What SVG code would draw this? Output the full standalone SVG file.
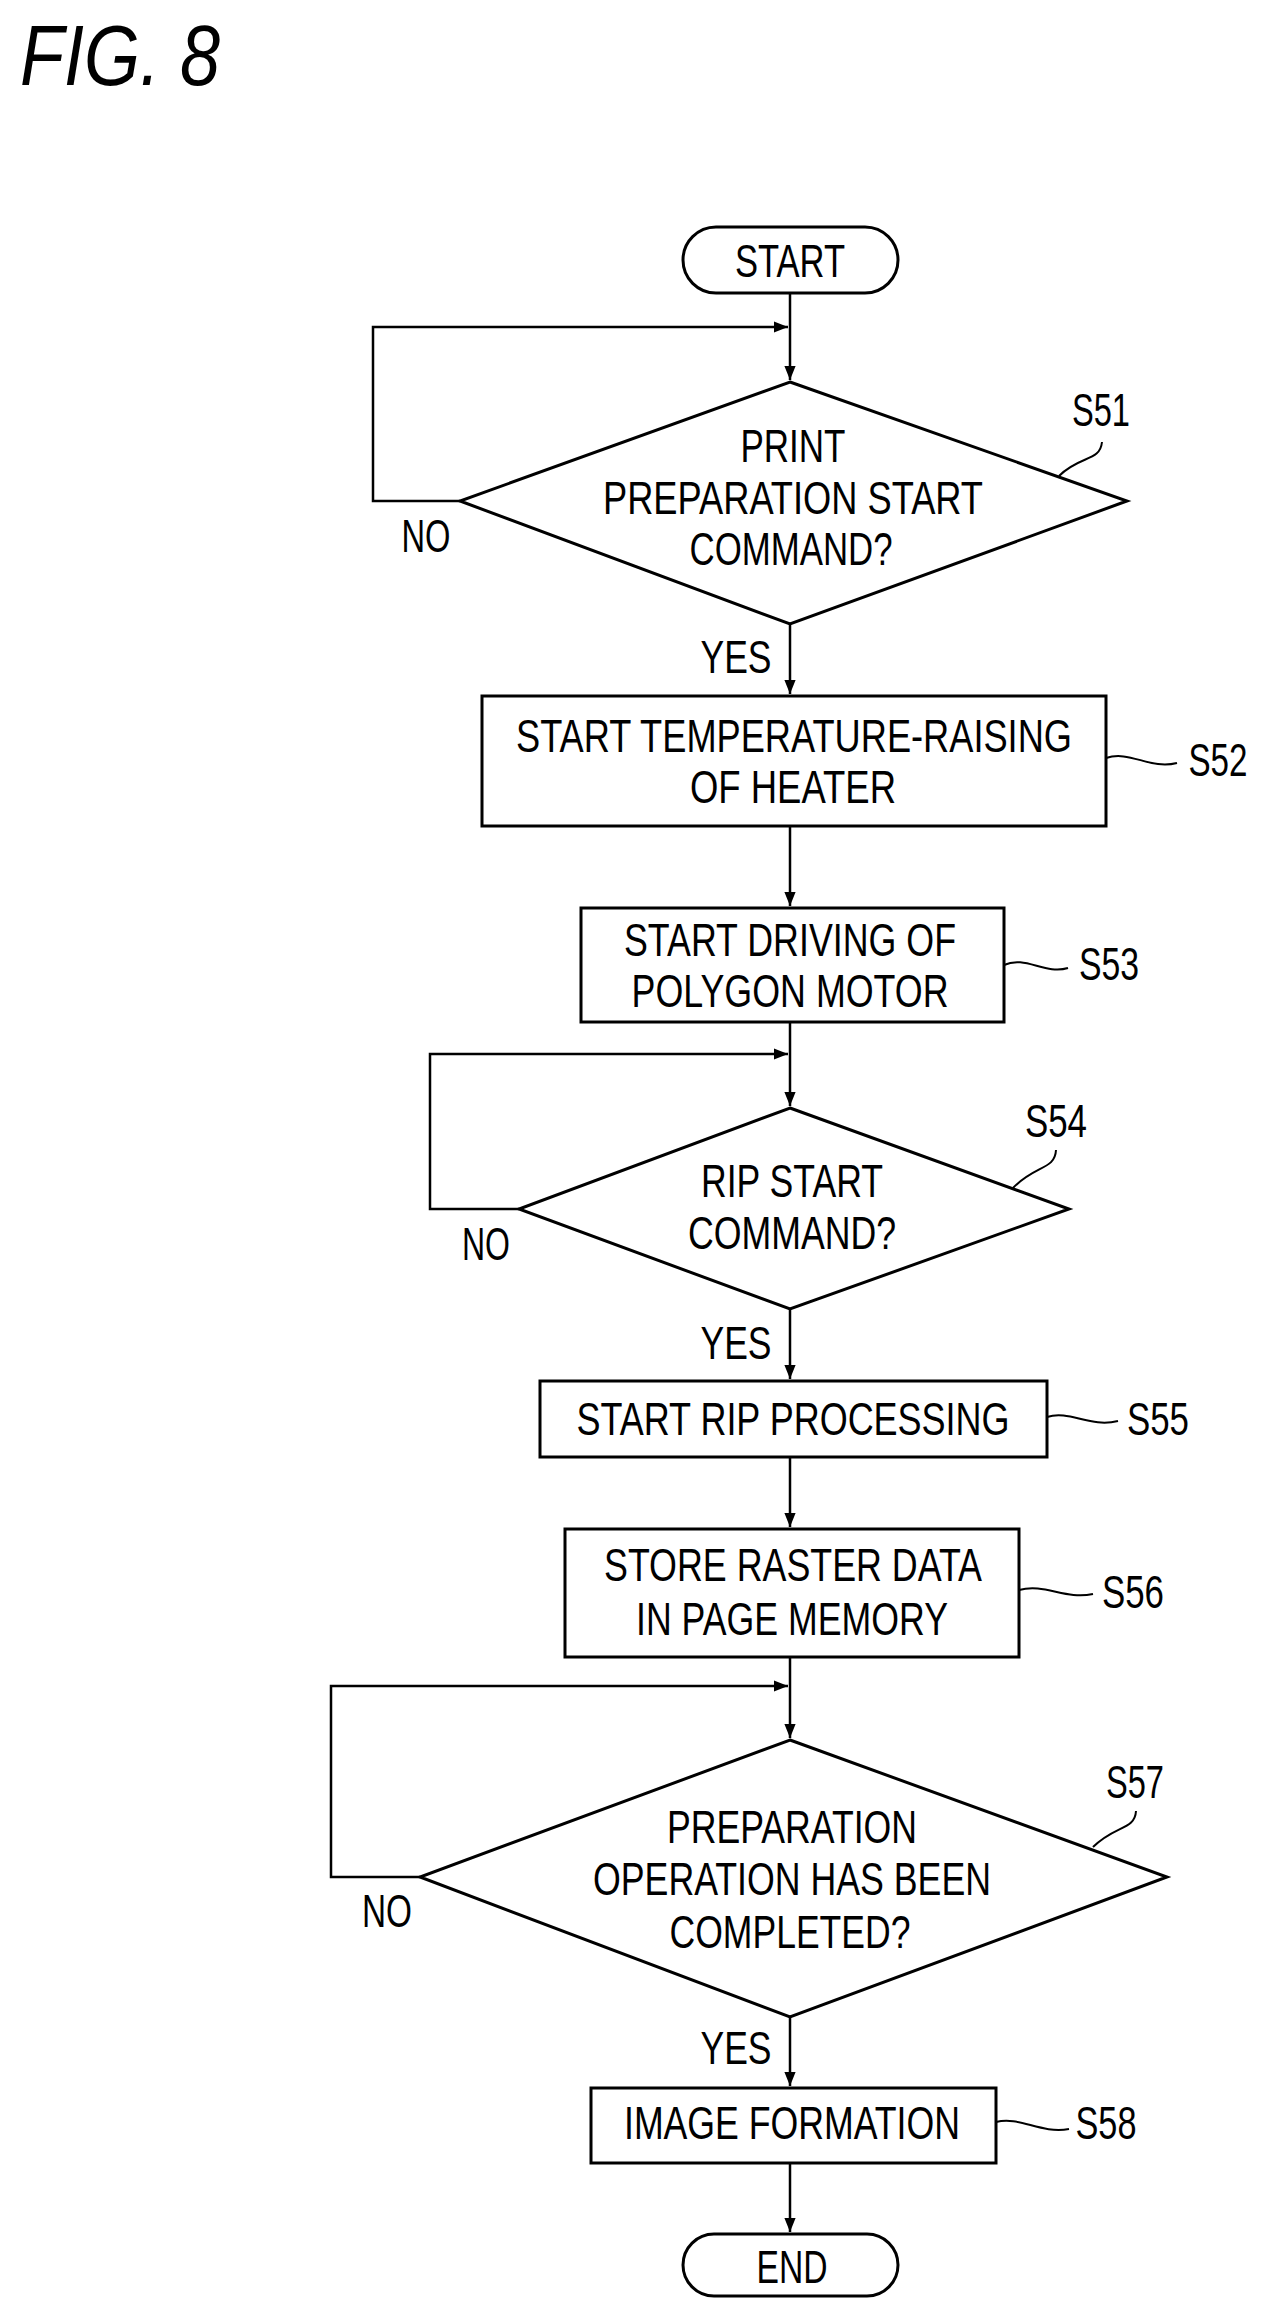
<svg xmlns="http://www.w3.org/2000/svg" width="1263" height="2319" viewBox="0 0 1263 2319">
<style>
text{font-family:"Liberation Sans",Arial,sans-serif;font-size:46px;fill:#000;text-anchor:middle}
.s{fill:#fff;stroke:#000;stroke-width:3}
.c{fill:none;stroke:#000;stroke-width:2.5}
.l{fill:none;stroke:#000;stroke-width:2}
.t{font-size:86px;font-style:italic;text-anchor:start}
</style>
<defs><marker id="a" viewBox="0 0 10 10" refX="10" refY="5" markerWidth="14" markerHeight="14" markerUnits="userSpaceOnUse" orient="auto"><path d="M0,1 L10,5 L0,9 Z" fill="#000"/></marker></defs>
<text class="t" x="20" y="85" textLength="200" lengthAdjust="spacingAndGlyphs">FIG. 8</text>
<g id="connectors">
<path class="c" d="M790,293 V380" marker-end="url(#a)"/>
<path class="c" d="M460,501 H373 V327 H788" marker-end="url(#a)"/>
<path class="c" d="M790,624 V694" marker-end="url(#a)"/>
<path class="c" d="M790,826 V906" marker-end="url(#a)"/>
<path class="c" d="M790,1022 V1106" marker-end="url(#a)"/>
<path class="c" d="M519,1209 H430 V1054 H788" marker-end="url(#a)"/>
<path class="c" d="M790,1309 V1379" marker-end="url(#a)"/>
<path class="c" d="M790,1457 V1527" marker-end="url(#a)"/>
<path class="c" d="M790,1657 V1738" marker-end="url(#a)"/>
<path class="c" d="M420,1877 H331 V1686 H788" marker-end="url(#a)"/>
<path class="c" d="M790,2017 V2086" marker-end="url(#a)"/>
<path class="c" d="M790,2163 V2232" marker-end="url(#a)"/>
</g>
<g id="start"><rect class="s" x="683" y="227" width="215" height="66" rx="33"/><text x="790" y="277" textLength="110" lengthAdjust="spacingAndGlyphs">START</text></g>
<g id="S51"><polygon class="s" points="790,382 1127,501 790,624 460,501"/>
<text x="793" y="462" textLength="105" lengthAdjust="spacingAndGlyphs">PRINT</text>
<text x="793" y="514" textLength="380" lengthAdjust="spacingAndGlyphs">PREPARATION START</text>
<text x="791" y="565" textLength="203" lengthAdjust="spacingAndGlyphs">COMMAND?</text>
<text x="1101" y="426" textLength="58" lengthAdjust="spacingAndGlyphs">S51</text>
<path class="l" d="M1102,442 C1100,462 1080,455 1059,476"/>
<text x="426" y="552" textLength="49" lengthAdjust="spacingAndGlyphs">NO</text>
<text x="736" y="673" textLength="71" lengthAdjust="spacingAndGlyphs">YES</text></g>
<g id="S52"><rect class="s" x="482" y="696" width="624" height="130"/>
<text x="794" y="752" textLength="556" lengthAdjust="spacingAndGlyphs">START TEMPERATURE-RAISING</text>
<text x="793" y="803" textLength="206" lengthAdjust="spacingAndGlyphs">OF HEATER</text>
<path class="l" d="M1106,758 C1130,750 1150,770 1177,763"/>
<text x="1218" y="776" textLength="59" lengthAdjust="spacingAndGlyphs">S52</text></g>
<g id="S53"><rect class="s" x="581" y="908" width="423" height="114"/>
<text x="790" y="956" textLength="332" lengthAdjust="spacingAndGlyphs">START DRIVING OF</text>
<text x="790" y="1007" textLength="317" lengthAdjust="spacingAndGlyphs">POLYGON MOTOR</text>
<path class="l" d="M1004,965 C1025,955 1045,975 1068,968"/>
<text x="1109" y="980" textLength="60" lengthAdjust="spacingAndGlyphs">S53</text></g>
<g id="S54"><polygon class="s" points="790,1108 1069,1209 790,1309 519,1209"/>
<text x="792" y="1197" textLength="182" lengthAdjust="spacingAndGlyphs">RIP START</text>
<text x="792" y="1249" textLength="208" lengthAdjust="spacingAndGlyphs">COMMAND?</text>
<text x="1056" y="1137" textLength="62" lengthAdjust="spacingAndGlyphs">S54</text>
<path class="l" d="M1056,1150 C1055,1170 1035,1165 1013,1188"/>
<text x="486" y="1260" textLength="48" lengthAdjust="spacingAndGlyphs">NO</text>
<text x="736" y="1359" textLength="71" lengthAdjust="spacingAndGlyphs">YES</text></g>
<g id="S55"><rect class="s" x="540" y="1381" width="507" height="76"/>
<text x="793" y="1435" textLength="433" lengthAdjust="spacingAndGlyphs">START RIP PROCESSING</text>
<path class="l" d="M1047,1417 C1070,1410 1090,1428 1118,1421"/>
<text x="1158" y="1435" textLength="62" lengthAdjust="spacingAndGlyphs">S55</text></g>
<g id="S56"><rect class="s" x="565" y="1529" width="454" height="128"/>
<text x="793" y="1581" textLength="378" lengthAdjust="spacingAndGlyphs">STORE RASTER DATA</text>
<text x="792" y="1635" textLength="312" lengthAdjust="spacingAndGlyphs">IN PAGE MEMORY</text>
<path class="l" d="M1019,1590 C1045,1583 1065,1600 1093,1594"/>
<text x="1133" y="1608" textLength="62" lengthAdjust="spacingAndGlyphs">S56</text></g>
<g id="S57"><polygon class="s" points="790,1740 1167,1877 790,2017 420,1877"/>
<text x="792" y="1843" textLength="250" lengthAdjust="spacingAndGlyphs">PREPARATION</text>
<text x="792" y="1895" textLength="398" lengthAdjust="spacingAndGlyphs">OPERATION HAS BEEN</text>
<text x="790" y="1948" textLength="241" lengthAdjust="spacingAndGlyphs">COMPLETED?</text>
<text x="1135" y="1798" textLength="58" lengthAdjust="spacingAndGlyphs">S57</text>
<path class="l" d="M1136,1811 C1135,1830 1115,1825 1093,1847"/>
<text x="387" y="1927" textLength="50" lengthAdjust="spacingAndGlyphs">NO</text>
<text x="736" y="2064" textLength="71" lengthAdjust="spacingAndGlyphs">YES</text></g>
<g id="S58"><rect class="s" x="591" y="2088" width="405" height="75"/>
<text x="792" y="2139" textLength="336" lengthAdjust="spacingAndGlyphs">IMAGE FORMATION</text>
<path class="l" d="M996,2122 C1020,2116 1040,2134 1069,2129"/>
<text x="1106" y="2139" textLength="61" lengthAdjust="spacingAndGlyphs">S58</text></g>
<g id="end"><rect class="s" x="683" y="2234" width="215" height="62" rx="31"/><text x="792" y="2283" textLength="71" lengthAdjust="spacingAndGlyphs">END</text></g>
</svg>
